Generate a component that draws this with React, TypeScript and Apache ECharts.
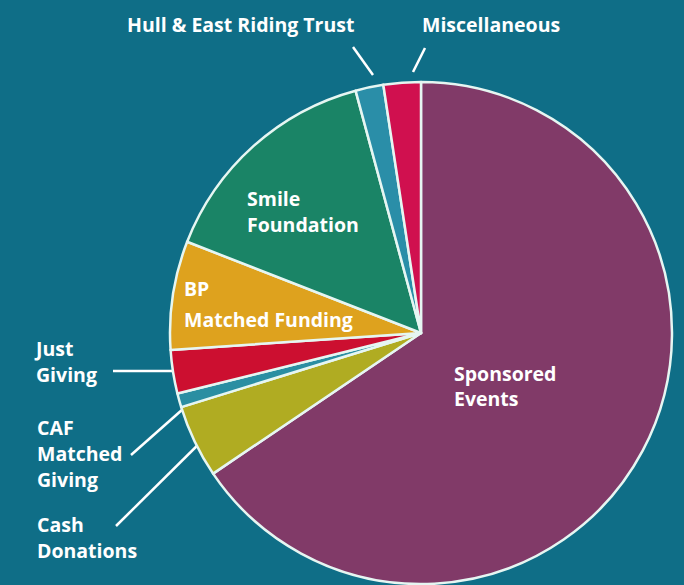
import React, { useEffect, useRef } from "react";
import * as echarts from "echarts";

const categories = [
  "Sponsored Events",
  "Cash Donations",
  "CAF Matched Giving",
  "Just Giving",
  "BP Matched Funding",
  "Smile Foundation",
  "Hull & East Riding Trust",
  "Miscellaneous",
];
const labelTexts = [
  "Sponsored\nEvents",
  "Cash\nDonations",
  "CAF\nMatched\nGiving",
  "Just\nGiving",
  "BP\nMatched Funding",
  "Smile\nFoundation",
  "Hull & East Riding Trust",
  "Miscellaneous",
];
const values = [65.6, 4.7, 0.9, 2.8, 7.0, 14.9, 1.8, 2.4];
const colors = ["#813a68", "#b0ac22", "#2a8ea2", "#cc0f30", "#dea21e", "#1a8466", "#2a8ea8", "#d0104f"];

// label placement (top-left of text block), line height, and leader lines
const labelLayouts: any[] = [
  { x: 454, y: 361, lh: 25 },
  { x: 37, y: 511, lh: 26, line: [[116, 526], [214, 429]] },
  { x: 37, y: 414, lh: 26, line: [[131, 455], [183, 409]] },
  { x: 36, y: 336, lh: 25.5, line: [[113, 371], [185, 371]] },
  { x: 184, y: 273, lh: 31 },
  { x: 247, y: 185, lh: 26 },
  { x: 127, y: 11, lh: 26, line: [[353, 47], [373, 75]] },
  { x: 422, y: 11, lh: 26, line: [[425, 48], [413, 72]] },
];

export default function App() {
  const ref = useRef<HTMLDivElement>(null);
  useEffect(() => {
    const chart = echarts.init(ref.current!, undefined, { renderer: "svg" });
    chart.setOption({
      animation: false,
      backgroundColor: "#0f6e87",
      series: [
        {
          type: "pie",
          center: [421, 333],
          radius: 251,
          startAngle: 90,
          clockwise: true,
          avoidLabelOverlap: false,
          itemStyle: { borderColor: "#e6f6f2", borderWidth: 2.5 },
          label: {
            show: true,
            color: "#ffffff",
            fontFamily: "Open Sans",
            fontWeight: "bold",
            fontSize: 19.5,
          },
          labelLine: { show: false, lineStyle: { color: "#ffffff", width: 2.5 } },
          data: categories.map((name, i) => ({
            name,
            value: values[i],
            itemStyle: { color: colors[i] },
            label: {
              formatter: labelTexts[i],
              lineHeight: labelLayouts[i].lh,
              position: labelLayouts[i].line ? "outside" : "inside",
              align: "left",
            },
            labelLine: { show: !!labelLayouts[i].line },
          })),
          labelLayout: (params: any) => {
            const l = labelLayouts[params.dataIndex];
            const out: any = { x: l.x, y: l.y, align: "left", verticalAlign: "top" };
            if (l.line) out.labelLinePoints = l.line;
            return out;
          },
        },
      ],
    });
    return () => chart.dispose();
  }, []);
  return (
    <div
      ref={ref}
      style={{ position: "fixed", left: 0, top: 0, width: 684, height: 585 }}
    />
  );
}
